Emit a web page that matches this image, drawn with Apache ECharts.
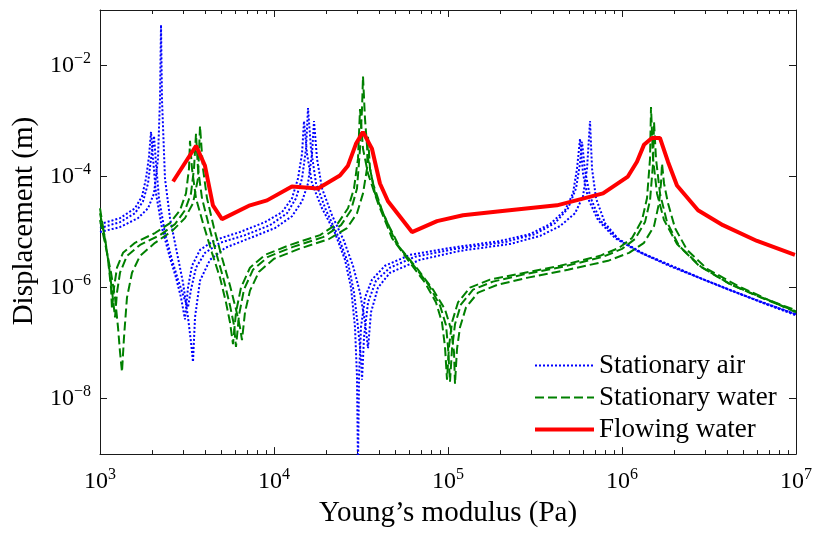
<!DOCTYPE html>
<html><head><meta charset="utf-8">
<script src="https://cdn.jsdelivr.net/npm/echarts@6/dist/echarts.min.js"></script>
<style>html,body{margin:0;padding:0;background:#fff}#c{width:816px;height:533px}</style>
</head><body><div id="c"></div>
<script>
// ---- tick values ----
const xTicks = [1e3, 1e4, 1e5, 1e6, 1e7];
const xMinorTicks = [2e3,3e3,4e3,5e3,6e3,7e3,8e3,9e3,2e4,3e4,4e4,5e4,6e4,7e4,8e4,9e4,
  2e5,3e5,4e5,5e5,6e5,7e5,8e5,9e5,2e6,3e6,4e6,5e6,6e6,7e6,8e6,9e6];
const yTicks = [1e-8, 1e-6, 1e-4, 1e-2];

// ---- series data: [Young's modulus (Pa), displacement (m)] ----
const air1 = [[1000,1.39e-5],[1303,1.78e-5],[1589,2.68e-5],[1744,4.39e-5],[1838,9.2e-5],[1912,2.28e-4],[1964,6.4e-4],[2017,2.1e-4],[2098,4.97e-5],[2271,1.18e-5],[2525,3.43e-6],[2734,1.51e-6],[2921,6.6e-7],[3079,2.68e-7],[3204,1.0e-6],[3378,2.47e-6],[3756,4.77e-6],[4581,7.2e-6],[6376,1.0e-5],[8878,1.51e-5],[11117,2.28e-5],[12690,4.05e-5],[13740,9.2e-5],[14488,2.57e-4],[14876,1.0e-3],[15478,2.57e-4],[16535,7.5e-5],[18877,2.68e-5],[22418,9.6e-6],[25590,3.16e-6],[27710,1.0e-6],[29212,1.93e-7],[29991,2.47e-8],[30392,6e-10],[30799,2.47e-8],[31623,1.93e-7],[33344,6.6e-7],[36575,1.39e-6],[43451,2.47e-6],[60469,3.88e-6],[102682,5.18e-6],[199040,6.9e-6],[296060,9.2e-6],[385670,1.39e-5],[470430,2.47e-5],[522740,4.97e-5],[551450,1.39e-4],[573740,4.77e-4],[597050,1.13e-4],[637860,4.05e-5],[727880,1.64e-5],[911500,7.8e-6],[1252000,4.39e-6],[1862000,2.47e-6],[2771000,1.51e-6],[4121000,9.2e-7],[6379000,5.4e-7],[1e7,3.3e-7]];
const air2 = [[1000,1.18e-5],[1303,1.51e-5],[1589,2.18e-5],[1767,3.58e-5],[1888,7.5e-5],[1964,2.1e-4],[2044,5.4e-4],[2098,1.71e-4],[2183,4.05e-5],[2363,9.6e-6],[2593,3.16e-6],[2807,1.39e-6],[3039,6.6e-7],[3204,4.39e-7],[3334,9.2e-7],[3562,2.28e-6],[4013,4.22e-6],[4894,6.4e-6],[6812,8.8e-6],[9484,1.33e-5],[11874,2.18e-5],[13380,4.05e-5],[14488,9.2e-5],[15275,3.16e-4],[15684,1.71e-3],[16315,3.16e-4],[17434,7.5e-5],[19906,2.47e-5],[23328,8.5e-6],[26629,2.8e-6],[28826,8.1e-7],[30392,1.93e-7],[31623,5.62e-8],[32046,2.18e-8],[32906,1.28e-7],[34697,5.4e-7],[38573,1.33e-6],[46416,2.28e-6],[64604,3.58e-6],[109699,4.97e-6],[212620,6.6e-6],[316230,9.2e-6],[412070,1.45e-5],[489520,2.68e-5],[544150,6.1e-5],[573740,1.71e-4],[589150,4.22e-4],[613070,1.28e-4],[654970,4.39e-5],[747460,1.64e-5],[936000,7.8e-6],[1286000,4.22e-6],[1912000,2.47e-6],[2845000,1.45e-6],[4231000,8.8e-7],[6464000,5.4e-7],[1e7,3.3e-7]];
const air3 = [[1000,1.0e-5],[1303,1.23e-5],[1653,1.78e-5],[1888,2.68e-5],[2044,4.97e-5],[2154,2.1e-4],[2212,2.47e-3],[2242,5.4e-2],[2271,2.47e-3],[2363,9.2e-5],[2525,1.78e-5],[2770,4.22e-6],[2999,1.23e-6],[3204,2.91e-7],[3334,1.04e-7],[3423,4.58e-8],[3516,2.91e-7],[3756,1.33e-6],[4287,3.16e-6],[5228,5.18e-6],[7278,7.8e-6],[10132,1.18e-5],[12690,1.93e-5],[14488,3.58e-5],[15684,7.5e-5],[16535,2.57e-4],[16978,1.0e-3],[17666,2.1e-4],[18877,6.1e-5],[21544,2.01e-5],[25260,6.9e-6],[28445,2.47e-6],[31212,8.1e-7],[33344,2.37e-7],[34697,8.1e-8],[36098,3.58e-7],[39601,1.0e-6],[46416,1.85e-6],[69038,3.16e-6],[117220,4.58e-6],[227100,6.1e-6],[337830,8.5e-6],[440350,1.28e-5],[537030,2.18e-5],[597050,4.39e-5],[629540,1.39e-4],[654970,1.0e-3],[672550,1.39e-4],[708880,4.05e-5],[798500,1.45e-5],[961100,7.2e-6],[1338000,4.05e-6],[1990000,2.37e-6],[2960000,1.39e-6],[4403000,8.5e-7],[6551000,5.18e-7],[1e7,3.16e-7]];

const water1 = [[1000,2.68e-5],[1054,9.6e-6],[1112,3.16e-6],[1157,1.0e-6],[1172,4.05e-7],[1204,1.0e-6],[1252,2.28e-6],[1356,4.22e-6],[1589,6.4e-6],[2071,9.6e-6],[2525,1.45e-5],[2883,2.47e-5],[3120,4.97e-5],[3247,1.39e-4],[3290,4.39e-4],[3378,1.39e-4],[3562,4.05e-5],[3908,1.45e-5],[4403,4.22e-6],[4894,1.51e-6],[5298,5.4e-7],[5585,2.37e-7],[5812,9.6e-8],[6047,3.58e-7],[6460,1.0e-6],[7278,2.28e-6],[8878,3.88e-6],[12360,5.86e-6],[18385,8.8e-6],[23328,1.45e-5],[26629,2.68e-5],[28826,6.1e-5],[30392,2.1e-4],[31212,1.64e-3],[32475,3.16e-4],[34697,1.13e-4],[39601,3.3e-5],[47660,7.8e-6],[60469,2.8e-6],[73753,1.23e-6],[85316,5.4e-7],[92356,2.37e-7],[96117,8.5e-8],[98695,2.18e-8],[101321,8.5e-8],[105439,2.37e-7],[114145,5.4e-7],[133800,1.0e-6],[174340,1.39e-6],[259370,1.78e-6],[440350,2.47e-6],[747460,3.73e-6],[961100,5.18e-6],[1142000,7.8e-6],[1303000,1.64e-5],[1392000,4.05e-5],[1449000,2.1e-4],[1468000,1.78e-3],[1508000,2.1e-4],[1589000,4.97e-5],[1744000,1.64e-5],[2071000,6.1e-6],[2771000,2.47e-6],[4121000,1.18e-6],[6131000,6.9e-7],[1e7,3.88e-7]];
const water2 = [[1000,2.18e-5],[1068,7.8e-6],[1126,2.47e-6],[1172,8.8e-7],[1220,2.91e-7],[1252,8.1e-7],[1303,1.85e-6],[1429,3.73e-6],[1698,5.86e-6],[2212,8.8e-6],[2698,1.39e-5],[3079,2.47e-5],[3334,4.97e-5],[3469,1.39e-4],[3562,5.86e-4],[3658,1.39e-4],[3857,4.05e-5],[4231,1.28e-5],[4704,3.73e-6],[5160,1.33e-6],[5585,4.77e-7],[5890,2.1e-7],[6047,8.5e-8],[6292,3.16e-7],[6722,9.2e-7],[7573,2.1e-6],[9237,3.58e-6],[12861,5.4e-6],[19130,8.1e-6],[24275,1.33e-5],[27710,2.47e-5],[29991,6.1e-5],[31212,3.16e-4],[32046,1.64e-3],[32475,6.36e-3],[33344,1.09e-3],[34697,2.1e-4],[37068,7.5e-5],[41759,2.47e-5],[50245,6.4e-6],[63759,2.47e-6],[77763,1.09e-6],[89943,4.77e-7],[97390,2.1e-7],[100000,8.5e-8],[102682,2.01e-8],[105439,7.8e-8],[109699,2.18e-7],[118770,4.97e-7],[139250,9.2e-7],[181400,1.28e-6],[269840,1.71e-6],[458120,2.37e-6],[777650,3.58e-6],[1000000,4.97e-6],[1188000,7.5e-6],[1356000,1.51e-5],[1449000,3.73e-5],[1508000,1.71e-4],[1528000,9.6e-4],[1568000,2.1e-4],[1653000,4.97e-5],[1814000,1.51e-5],[2127000,5.62e-6],[2845000,2.37e-6],[4231000,1.13e-6],[6295000,6.6e-7],[1e7,3.73e-7]];
const water3 = [[1000,1.64e-5],[1083,5.18e-6],[1157,1.85e-6],[1220,6.6e-7],[1269,1.93e-7],[1303,6.9e-8],[1338,3.03e-8],[1374,1.28e-7],[1429,6.6e-7],[1527,1.85e-6],[1698,3.73e-6],[2071,6.4e-6],[2593,1.04e-5],[3079,1.78e-5],[3423,3.3e-5],[3658,9.2e-5],[3756,8.1e-4],[3908,1.39e-4],[4121,4.05e-5],[4521,1.18e-5],[5025,3.43e-6],[5585,1.09e-6],[6047,4.05e-7],[6376,1.93e-7],[6547,1.13e-7],[6812,3.58e-7],[7278,8.8e-7],[8201,1.93e-6],[10000,3.3e-6],[13920,4.97e-6],[20714,7.5e-6],[26280,1.18e-5],[29991,2.18e-5],[32475,4.97e-5],[34237,1.39e-4],[34697,5.18e-4],[35622,1.39e-4],[38062,4.97e-5],[44035,1.64e-5],[52978,5.18e-6],[67234,2.1e-6],[82002,9.2e-7],[96117,4.05e-7],[104043,1.78e-7],[108266,6.9e-8],[109699,1.85e-8],[112640,7.8e-8],[117220,1.93e-7],[126900,4.39e-7],[148760,8.1e-7],[193830,1.13e-6],[288330,1.51e-6],[489520,2.1e-6],[830800,3.03e-6],[1097000,4.22e-6],[1338000,6.4e-6],[1528000,1.28e-5],[1632000,3.3e-5],[1675000,7.5e-5],[1698000,1.71e-4],[1744000,7.5e-5],[1838000,3.3e-5],[2017000,1.18e-5],[2364000,4.77e-6],[3080000,2.18e-6],[4581000,1.09e-6],[6638000,6.4e-7],[1e7,3.58e-7]];

const flowing = [[2630,8.15e-5],[3565,3.58e-4],[4009,1.57e-4],[4457,3.03e-5],[5023,1.71e-5],[7278,3.03e-5],[9120,3.72e-5],[12680,6.62e-5],[17910,6.1e-5],[23930,1.04e-4],[26610,1.57e-4],[29580,3.88e-4],[32430,6.37e-4],[36560,3.16e-4],[40640,7.5e-5],[45190,3.58e-5],[62090,1.0e-5],[86500,1.57e-5],[121900,2.01e-5],[199100,2.37e-5],[422700,3.03e-5],[778000,4.97e-5],[1081000,1.0e-4],[1219000,1.85e-4],[1337000,3.72e-4],[1486000,4.97e-4],[1652000,4.97e-4],[1837000,1.85e-4],[2070000,6.9e-5],[2735000,2.47e-5],[3802000,1.33e-5],[5970000,6.9e-6],[9860000,3.88e-6]];

const legendNames = ['Stationary air', 'Stationary water', 'Flowing water'];
const xTitle = 'Young\u2019s modulus (Pa)';
const yTitle = 'Displacement (m)';

// ---- chart ----
const FONT = 'Liberation Serif';
const AX = '#1a1a1a';
function powLabel(v) {
  const e = Math.round(Math.log10(v));
  return '{b|10}{s|' + (e < 0 ? '\u2212' + (-e) : e) + '}';
}
const rich = {
  b: { fontFamily: FONT, fontSize: 24, color: '#000', lineHeight: 26 },
  s: { fontFamily: FONT, fontSize: 16, color: '#000', padding: [0, 0, 14, 0] }
};
function logAxisBase(extra) {
  return Object.assign({
    type: 'log', logBase: 10, gridIndex: 0,
    splitLine: { show: false }, minorTick: { show: false }, minorSplitLine: { show: false }
  }, extra);
}
const xAxes = [
  logAxisBase({ position: 'bottom', min: 1e3, max: 1e7,
    axisLine: { show: true, lineStyle: { color: AX, width: 1 } },
    axisTick: { show: true, inside: true, length: 7, customValues: xTicks, lineStyle: { color: AX } },
    axisLabel: { show: true, customValues: xTicks, formatter: powLabel, rich: rich, margin: 13 },
    name: xTitle, nameLocation: 'middle', nameGap: 44,
    nameTextStyle: { fontFamily: FONT, fontSize: 29, color: '#000' } }),
  logAxisBase({ position: 'top', min: 1e3, max: 1e7,
    axisLine: { show: true, lineStyle: { color: AX, width: 1 } },
    axisTick: { show: true, inside: true, length: 7, customValues: xTicks, lineStyle: { color: AX } },
    axisLabel: { show: false } }),
  logAxisBase({ position: 'bottom', min: 1e3, max: 1e7,
    axisLine: { show: false },
    axisTick: { show: true, inside: true, length: 4, customValues: xMinorTicks, lineStyle: { color: AX } },
    axisLabel: { show: false } }),
  logAxisBase({ position: 'top', min: 1e3, max: 1e7,
    axisLine: { show: false },
    axisTick: { show: true, inside: true, length: 4, customValues: xMinorTicks, lineStyle: { color: AX } },
    axisLabel: { show: false } })
];
const yAxes = [
  logAxisBase({ position: 'left', min: 1e-9, max: 1e-1,
    axisLine: { show: true, lineStyle: { color: AX, width: 1 } },
    axisTick: { show: true, inside: true, length: 7, customValues: yTicks, lineStyle: { color: AX } },
    axisLabel: { show: true, customValues: yTicks, formatter: powLabel, rich: rich, margin: 9 },
    name: yTitle, nameLocation: 'middle', nameGap: 61, nameRotate: 90,
    nameTextStyle: { fontFamily: FONT, fontSize: 29, color: '#000', padding: [0, 0, 0, 22] } }),
  logAxisBase({ position: 'right', min: 1e-9, max: 1e-1,
    axisLine: { show: true, lineStyle: { color: AX, width: 1 } },
    axisTick: { show: true, inside: true, length: 7, customValues: yTicks, lineStyle: { color: AX } },
    axisLabel: { show: false } })
];

function lineSeries(name, data, color, width, type, z) {
  return { type: 'line', name: name, data: data, xAxisIndex: 0, yAxisIndex: 0,
    symbol: 'none', showSymbol: false, smooth: false, clip: true, z: z,
    lineStyle: { color: color, width: width, type: type }, itemStyle: { color: color },
    emphasis: { disabled: true } };
}
const BLUE = '#0000ff', GREEN = '#008000', RED = '#ff0000';
const series = [
  lineSeries(legendNames[0], air1, BLUE, 2, 'dotted', 2),
  lineSeries(legendNames[0], air2, BLUE, 2, 'dotted', 2),
  lineSeries(legendNames[0], air3, BLUE, 2, 'dotted', 2),
  lineSeries(legendNames[1], water1, GREEN, 2, [9, 4], 3),
  lineSeries(legendNames[1], water2, GREEN, 2, [9, 4], 3),
  lineSeries(legendNames[1], water3, GREEN, 2, [9, 4], 3),
  lineSeries(legendNames[2], flowing, RED, 4, 'solid', 4)
];

const chart = echarts.init(document.getElementById('c'), null, { renderer: 'canvas' });
chart.setOption({
  animation: false,
  backgroundColor: '#fff',
  grid: { left: 100, right: 20, top: 10, bottom: 75, containLabel: false },
  xAxis: xAxes,
  yAxis: yAxes,
  legend: {
    data: [
      { name: legendNames[0], lineStyle: { width: 2, type: 'dotted', color: BLUE } },
      { name: legendNames[1], lineStyle: { width: 2, type: [9, 4], color: GREEN } },
      { name: legendNames[2], lineStyle: { width: 4, type: 'solid', color: RED } }
    ],
    orient: 'vertical', left: 533, top: 352, padding: 0,
    itemWidth: 59, itemHeight: 14, itemGap: 5, selectedMode: false,
    itemStyle: { opacity: 0 },
    textStyle: { fontFamily: FONT, fontSize: 27, color: '#000' }
  },
  tooltip: { show: false },
  series: series
});
</script>
</body></html>
